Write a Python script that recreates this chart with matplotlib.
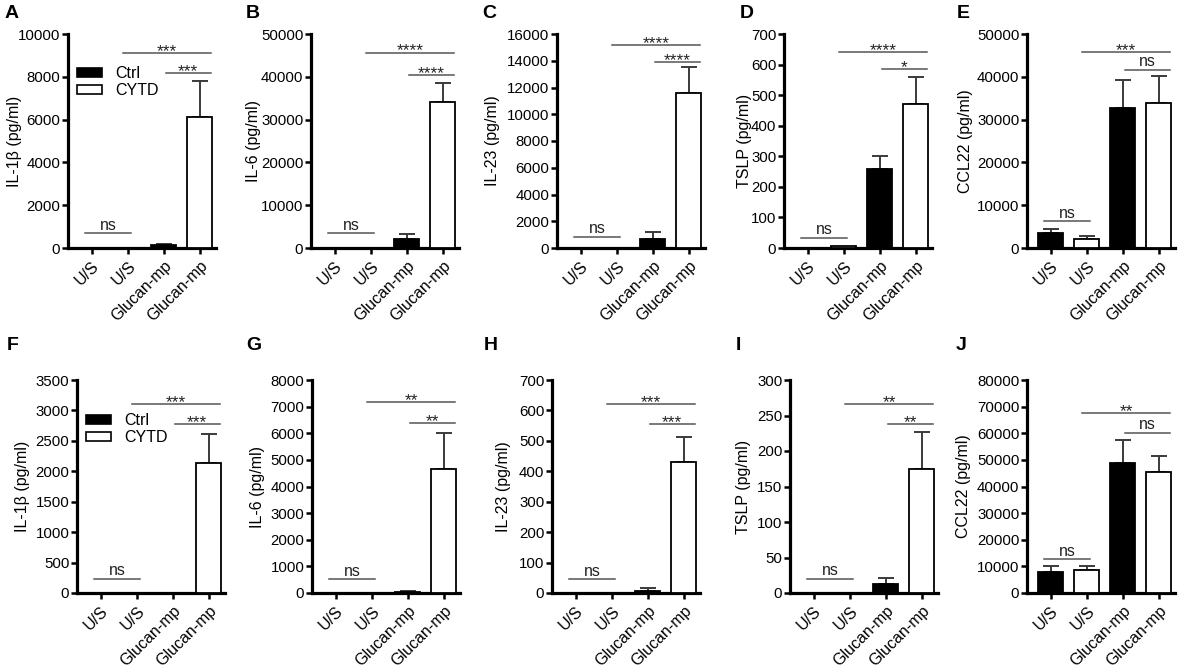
import matplotlib
matplotlib.use('Agg')
import matplotlib.pyplot as plt
from matplotlib.patches import Patch
from matplotlib.transforms import offset_copy

plt.rcParams['font.family'] = ['Liberation Sans', 'DejaVu Sans']

# ---------------- data ----------------
categories = ['U/S', 'U/S', 'Glucan-mp', 'Glucan-mp']
groups = ['Ctrl', 'CYTD', 'Ctrl', 'CYTD']
panel_letters = ['A', 'B', 'C', 'D', 'E', 'F', 'G', 'H', 'I', 'J']
ylabels = ['IL-1β (pg/ml)', 'IL-6 (pg/ml)', 'IL-23 (pg/ml)', 'TSLP (pg/ml)', 'CCL22 (pg/ml)',
           'IL-1β (pg/ml)', 'IL-6 (pg/ml)', 'IL-23 (pg/ml)', 'TSLP (pg/ml)', 'CCL22 (pg/ml)']
ymax = [10000, 50000, 16000, 700, 50000, 3500, 8000, 700, 300, 80000]
ystep = [2000, 10000, 2000, 100, 10000, 500, 1000, 100, 50, 10000]

means_A = [0, 0, 150, 6100]
err_A = [0, 0, 60, 1700]
means_B = [0, 0, 2000, 34000]
err_B = [0, 0, 1200, 4500]
means_C = [0, 0, 700, 11600]
err_C = [0, 0, 480, 1900]
means_D = [0, 5, 257, 470]
err_D = [0, 0, 43, 90]
means_E = [3500, 2000, 32600, 33900]
err_E = [1000, 700, 6700, 6400]
means_F = [0, 0, 0, 2130]
err_F = [0, 0, 0, 480]
means_G = [0, 0, 40, 4650]
err_G = [0, 0, 20, 1350]
means_H = [0, 0, 5, 430]
err_H = [0, 0, 12, 82]
means_I = [0, 0, 13, 174]
err_I = [0, 0, 8, 53]
means_J = [8000, 8800, 49000, 45500]
err_J = [2300, 1200, 8300, 5800]

all_means = [means_A, means_B, means_C, means_D, means_E,
             means_F, means_G, means_H, means_I, means_J]
all_errs = [err_A, err_B, err_C, err_D, err_E,
            err_F, err_G, err_H, err_I, err_J]

# significance: (ns line y, long line y, short line y, long label, short label)
sig_ns_y = [700, 3500, 830, 33, 6300, 231, 526, 46, 20, 12700]
sig_long_y = [9100, 45600, 15170, 641, 45800, 3104, 7174, 621, 266, 67660]
sig_short_y = [8180, 40400, 13890, 585, 41600, 2774, 6385, 555, 238, 60190]
sig_long_lab = ['***', '****', '****', '****', '***', '***', '**', '***', '**', '**']
sig_short_lab = ['***', '****', '****', '*', 'ns', '***', '**', '***', '**', 'ns']

# ---------------- layout ----------------
W, H = 1192, 669
fig = plt.figure(figsize=(W / 100, H / 100), dpi=100)

spine_x = [68, 311, 557, 784, 1027, 77, 312, 552, 790, 1027]
row_top = [34, 380]
row_bot = [248, 593]
letter_x = [5, 246, 482, 740, 957, 7, 246, 484, 736, 956]
ylabel_cx = [14, 253, 492, 744, 965, 22, 257, 503, 743, 963]
axw = 148
FS = 11.5

xlim = (-0.66, 3.45)
bar_w = 0.7
colors = ['black' if g == 'Ctrl' else 'white' for g in groups]

for i in range(10):
    r = i // 5
    top, bot = row_top[r], row_bot[r]
    ax = fig.add_axes([spine_x[i] / W, (H - bot) / H, axw / W, (bot - top) / H])
    xs = list(range(4))
    m = all_means[i]
    e = all_errs[i]
    ax.bar(xs, m, width=bar_w, color=colors, edgecolor='black', linewidth=1.3, zorder=3)
    for x, mv, ev in zip(xs, m, e):
        if ev > 0:
            ax.errorbar([x], [mv], yerr=[[0], [ev]], fmt='none', ecolor='#3a3a3a',
                        elinewidth=1.4, capsize=5.5, capthick=1.4, zorder=2)
    ax.set_xlim(*xlim)
    ax.set_ylim(0, ymax[i])
    ax.set_yticks(range(0, ymax[i] + 1, ystep[i]))
    ax.set_xticks(xs)
    ax.set_xticklabels(categories, rotation=45, ha='right', rotation_mode='anchor',
                       fontsize=FS)
    ax.tick_params(axis='y', labelsize=10.8, width=1.8, length=4, pad=1.5, colors='black')
    ax.tick_params(axis='x', width=1.8, length=4.5, pad=3)
    for s in ['top', 'right']:
        ax.spines[s].set_visible(False)
    for s in ['left', 'bottom']:
        ax.spines[s].set_linewidth(2.3)
    ax.set_ylabel(ylabels[i], fontsize=FS)
    ax.yaxis.set_label_coords((ylabel_cx[i] + 8 - spine_x[i]) / axw, 0.5)

    # significance lines
    lc = '#555555'
    ax.plot([-0.2, 1.1], [sig_ns_y[i]] * 2, color=lc, lw=1.1, zorder=4, clip_on=False)
    ax.plot([0.88, 3.3], [sig_long_y[i]] * 2, color=lc, lw=1.1, zorder=4, clip_on=False)
    ax.plot([2.05, 3.3], [sig_short_y[i]] * 2, color=lc, lw=1.1, zorder=4, clip_on=False)
    tr_ns = offset_copy(ax.transData, fig=fig, y=2.5, units='points')
    tr_st = offset_copy(ax.transData, fig=fig, y=-2.0, units='points')

    def put(xc, yv, lab):
        if lab == 'ns':
            ax.text(xc, yv, lab, ha='center', va='baseline', fontsize=FS,
                    transform=tr_ns, color='#222222', clip_on=False)
        else:
            ax.text(xc, yv, lab, ha='center', va='baseline', fontsize=12.5,
                    transform=tr_st, color='#222222', clip_on=False)

    put(0.45, sig_ns_y[i], 'ns')
    put(2.09, sig_long_y[i], sig_long_lab[i])
    put(2.68, sig_short_y[i], sig_short_lab[i])

    if i in (0, 5):
        handles = [Patch(facecolor='black', edgecolor='black', linewidth=1.2),
                   Patch(facecolor='white', edgecolor='black', linewidth=1.2)]
        ax.legend(handles, ['Ctrl', 'CYTD'], loc='upper left',
                  bbox_to_anchor=(0.06, 0.85 if i == 0 else 0.845), frameon=False,
                  fontsize=FS, borderpad=0, borderaxespad=0, handlelength=1.6,
                  handleheight=0.5, labelspacing=0.15, handletextpad=0.8)

    fig.text(letter_x[i] / W, 1 - (13 + (346 - 13) * r) / H, panel_letters[i],
             fontsize=14, fontweight='bold', va='center', ha='left')

fig.savefig('out.png', dpi=100)
